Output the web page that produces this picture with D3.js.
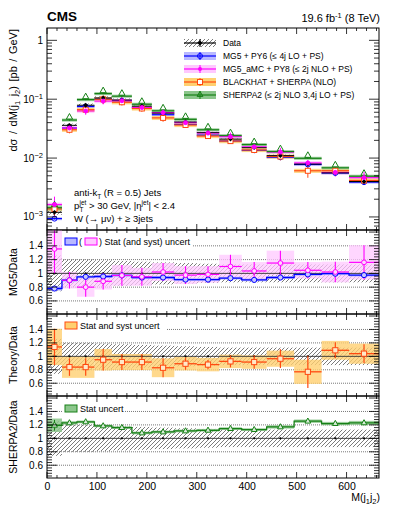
<!DOCTYPE html>
<html>
<head>
<meta charset="utf-8">
<script src="https://cdn.jsdelivr.net/npm/d3@7"></script>
<style>
  body { margin: 0; background: #fff; }
  svg { font-family: "Liberation Sans", Arial, sans-serif; }
</style>
</head>
<body>
<svg id="vis" width="399" height="516"></svg>
<script>
// ---- data ----
const binEdges = [0, 30, 60, 95, 130, 170, 210, 255, 300, 345, 390, 440, 495, 550, 605, 665];
const dataXsec = [0.0012, 0.036, 0.079, 0.105, 0.097, 0.076, 0.058, 0.041, 0.027, 0.021, 0.015, 0.011, 0.0079, 0.0056, 0.0040];
const dataUnc  = [0.26, 0.20, 0.20, 0.19, 0.18, 0.17, 0.16, 0.15, 0.14, 0.13, 0.13, 0.13, 0.13, 0.13, 0.13];
const mg5Ratio = [0.78, 0.90, 0.95, 0.955, 0.97, 0.94, 0.94, 0.91, 0.91, 0.93, 0.905, 0.94, 0.985, 0.995, 0.975];
const mg5Unc   = [0.03, 0.02, 0.02, 0.02, 0.02, 0.02, 0.02, 0.02, 0.02, 0.02, 0.02, 0.02, 0.02, 0.02, 0.02];
const amcRatio = [1.355, 0.90, 0.80, 0.885, 0.97, 0.95, 1.02, 0.975, 0.985, 1.10, 1.035, 1.15, 1.045, 1.02, 1.16];
const amcUnc   = [0.36, 0.12, 0.14, 0.12, 0.15, 0.13, 0.13, 0.13, 0.12, 0.17, 0.13, 0.18, 0.12, 0.15, 0.25];
const bhRatio  = [1.14, 0.84, 0.84, 0.95, 0.915, 0.915, 0.83, 0.89, 0.877, 0.925, 0.915, 0.965, 0.77, 1.09, 1.04];
const bhErr    = [0.27, 0.13, 0.13, 0.16, 0.12, 0.12, 0.14, 0.09, 0.07, 0.09, 0.10, 0.14, 0.24, 0.12, 0.14];
const bhBand   = [0.27, 0.16, 0.16, 0.16, 0.12, 0.12, 0.14, 0.10, 0.10, 0.10, 0.10, 0.12, 0.18, 0.14, 0.15];
const shRatio  = [1.195, 1.23, 1.245, 1.185, 1.16, 1.08, 1.095, 1.11, 1.12, 1.145, 1.13, 1.17, 1.255, 1.22, 1.23];
const shUnc    = [0.10, 0.025, 0.02, 0.02, 0.02, 0.02, 0.02, 0.02, 0.02, 0.02, 0.02, 0.025, 0.025, 0.025, 0.03];

const xTickVals = [0, 100, 200, 300, 400, 500, 600];
const logTickVals = [1e-3, 1e-2, 1e-1, 1];
const ratioTickVals = [0.6, 0.8, 1, 1.2, 1.4];

const legendNames = ["Data", "MG5 + PY6 (\u2264 4j LO + PS)", "MG5_aMC + PY8 (\u2264 2j NLO + PS)",
                     "BLACKHAT + SHERPA (NLO)", "SHERPA2 (\u2264 2j NLO 3,4j LO + PS)"];

// colours
const cBlue = "#0000ff", cBlueBand = "#b8b8ff",
      cMag = "#ff00ff", cMagBand = "#ffc8ff",
      cOr = "#ff4a10", cOrBand = "#ffd070",
      cGr = "#168016", cGrBand = "#8cc68c";

// ---- layout ----
const left = 47, right = 379;
const panels = {
  main:   { top: 28,  bottom: 230 },
  mg5:    { top: 230, bottom: 314 },
  theory: { top: 314, bottom: 396 },
  sherpa: { top: 396, bottom: 478 }
};

const svg = d3.select("#vis");
const defs = svg.append("defs");
defs.append("pattern")
    .attr("id", "hatch")
    .attr("patternUnits", "userSpaceOnUse")
    .attr("width", 4).attr("height", 4)
  .append("path")
    .attr("d", "M-1,1 l2,-2 M0,4 l4,-4 M3,5 l2,-2")
    .attr("stroke", "#222").attr("stroke-width", 0.6);

const x = d3.scaleLinear().domain([0, 665]).range([left, right]);
const yMain = d3.scaleLog().domain([6.0e-4, 1.62]).range([panels.main.bottom, panels.main.top]);
const yR = {};
["mg5", "theory", "sherpa"].forEach(k => {
  yR[k] = d3.scaleLinear().domain([0.41, 1.63]).range([panels[k].bottom, panels[k].top]);
});

const bins = d3.range(dataXsec.length).map(i => ({
  i, lo: binEdges[i], hi: binEdges[i + 1], mid: (binEdges[i] + binEdges[i + 1]) / 2
}));

Object.keys(panels).forEach(k => {
  defs.append("clipPath").attr("id", "clip-" + k)
    .append("rect")
      .attr("x", left).attr("y", panels[k].top)
      .attr("width", right - left).attr("height", panels[k].bottom - panels[k].top);
});

// ---- helpers ----
function xTickMarks(g, p) {
  d3.range(0, 665, 20).forEach(v => {
    const len = v % 100 === 0 ? 6 : 3;
    g.append("line").attr("x1", x(v)).attr("x2", x(v))
      .attr("y1", p.bottom).attr("y2", p.bottom - len).attr("stroke", "#000").attr("stroke-width", 0.8);
    g.append("line").attr("x1", x(v)).attr("x2", x(v))
      .attr("y1", p.top).attr("y2", p.top + len).attr("stroke", "#000").attr("stroke-width", 0.8);
  });
}

function frame(g, p) {
  g.append("rect").attr("x", left).attr("y", p.top)
    .attr("width", right - left).attr("height", p.bottom - p.top)
    .attr("fill", "none").attr("stroke", "#000").attr("stroke-width", 1);
}

function diamondPath(cx, cy, s) { return `M${cx},${cy - s}L${cx + s},${cy}L${cx},${cy + s}L${cx - s},${cy}Z`; }
function triPath(cx, cy, s) { return `M${cx},${cy - s}L${cx + s * 0.9},${cy + s * 0.6}L${cx - s * 0.9},${cy + s * 0.6}Z`; }

// ================= main panel =================
const gMain = svg.append("g");
const mainPlot = gMain.append("g").attr("clip-path", "url(#clip-main)");

const series = [
  { name: "mg5", ratio: mg5Ratio, band: mg5Unc.map(u => Math.max(u, 0.06)), err: mg5Unc, col: cBlue, bandCol: cBlueBand },
  { name: "amc", ratio: amcRatio, band: amcUnc.map(u => Math.min(u, 0.08)), err: amcUnc, col: cMag, bandCol: cMagBand },
  { name: "bh",  ratio: bhRatio,  band: bhBand.map(u => Math.min(u, 0.08)), err: bhErr, col: cOr, bandCol: cOrBand },
  { name: "sh",  ratio: shRatio,  band: shUnc.map(u => Math.max(u, 0.06)), err: shUnc, col: cGr, bandCol: cGrBand }
];

// data hatched boxes
mainPlot.selectAll("rect.dhatch").data(bins).join("rect")
  .attr("x", d => x(d.lo)).attr("width", d => x(d.hi) - x(d.lo))
  .attr("y", d => yMain(dataXsec[d.i] * (1 + dataUnc[d.i] * 0.35)))
  .attr("height", d => yMain(dataXsec[d.i] * (1 - dataUnc[d.i] * 0.35)) - yMain(dataXsec[d.i] * (1 + dataUnc[d.i] * 0.35)))
  .attr("fill", "url(#hatch)");

series.forEach(s => {
  mainPlot.selectAll("rect.b" + s.name).data(bins).join("rect")
    .attr("x", d => x(d.lo)).attr("width", d => x(d.hi) - x(d.lo))
    .attr("y", d => yMain(dataXsec[d.i] * s.ratio[d.i] * (1 + s.band[d.i])))
    .attr("height", d => yMain(dataXsec[d.i] * s.ratio[d.i] * (1 - s.band[d.i])) - yMain(dataXsec[d.i] * s.ratio[d.i] * (1 + s.band[d.i])))
    .attr("fill", s.bandCol).attr("opacity", 0.85);
});
series.forEach(s => {
  mainPlot.selectAll("line.h" + s.name).data(bins).join("line")
    .attr("x1", d => x(d.lo)).attr("x2", d => x(d.hi))
    .attr("y1", d => yMain(dataXsec[d.i] * s.ratio[d.i])).attr("y2", d => yMain(dataXsec[d.i] * s.ratio[d.i]))
    .attr("stroke", s.col).attr("stroke-width", 1.2);
  mainPlot.selectAll("line.v" + s.name).data(bins).join("line")
    .attr("x1", d => x(d.mid)).attr("x2", d => x(d.mid))
    .attr("y1", d => yMain(dataXsec[d.i] * s.ratio[d.i] * (1 + s.err[d.i])))
    .attr("y2", d => yMain(dataXsec[d.i] * s.ratio[d.i] * Math.max(1 - s.err[d.i], 0.05)))
    .attr("stroke", s.col).attr("stroke-width", 1);
});
// data line + points
mainPlot.selectAll("line.dh").data(bins).join("line")
  .attr("x1", d => x(d.lo)).attr("x2", d => x(d.hi))
  .attr("y1", d => yMain(dataXsec[d.i])).attr("y2", d => yMain(dataXsec[d.i]))
  .attr("stroke", "#000").attr("stroke-width", 1);

// markers
mainPlot.selectAll("circle.mg5").data(bins).join("circle")
  .attr("cx", d => x(d.mid)).attr("cy", d => yMain(dataXsec[d.i] * mg5Ratio[d.i])).attr("r", 2.5)
  .attr("fill", "none").attr("stroke", cBlue).attr("stroke-width", 1);
mainPlot.selectAll("rect.bhm").data(bins).join("rect")
  .attr("x", d => x(d.mid) - 2.5).attr("y", d => yMain(dataXsec[d.i] * bhRatio[d.i]) - 2.5)
  .attr("width", 5).attr("height", 5)
  .attr("fill", "#fff").attr("stroke", cOr).attr("stroke-width", 1);
mainPlot.selectAll("path.shm").data(bins).join("path")
  .attr("d", d => triPath(x(d.mid), yMain(dataXsec[d.i] * shRatio[d.i]) - 3, 3.5))
  .attr("fill", "none").attr("stroke", cGr).attr("stroke-width", 1);
mainPlot.selectAll("path.dm").data(bins).join("path")
  .attr("d", d => diamondPath(x(d.mid), yMain(dataXsec[d.i]), 2.4))
  .attr("fill", "#000");
mainPlot.selectAll("circle.amc").data(bins).join("circle")
  .attr("cx", d => x(d.mid)).attr("cy", d => yMain(dataXsec[d.i] * amcRatio[d.i])).attr("r", 2)
  .attr("fill", cMag).attr("stroke", cMag);

// log ticks
const logMinor = [];
[-4, -3, -2, -1, 0].forEach(e => d3.range(1, 10).forEach(m => {
  const v = m * Math.pow(10, e);
  if (v >= yMain.domain()[0] && v <= yMain.domain()[1]) logMinor.push({ v, major: m === 1 });
}));
logMinor.forEach(t => {
  const len = t.major ? 10 : 5;
  gMain.append("line").attr("x1", left).attr("x2", left + len)
    .attr("y1", yMain(t.v)).attr("y2", yMain(t.v)).attr("stroke", "#000").attr("stroke-width", 0.8);
  gMain.append("line").attr("x1", right).attr("x2", right - len)
    .attr("y1", yMain(t.v)).attr("y2", yMain(t.v)).attr("stroke", "#000").attr("stroke-width", 0.8);
});
xTickMarks(gMain, panels.main);
frame(gMain, panels.main);

logTickVals.forEach(v => {
  const e = Math.round(Math.log10(v));
  const t = gMain.append("text").attr("x", 43).attr("y", yMain(v) + 3.5)
    .attr("text-anchor", "end").attr("font-size", 10);
  if (e === 0) { t.text("1"); }
  else {
    t.append("tspan").text("10");
    t.append("tspan").attr("dy", -4).attr("font-size", 7.5).text("\u2212" + (-e));
  }
});

// main y title
const yt = svg.append("text")
  .attr("transform", `translate(17,${panels.main.top + 1}) rotate(-90)`)
  .attr("text-anchor", "end").attr("font-size", 11).attr("word-spacing", 1.5);
yt.append("tspan").text("d\u03c3 / dM(j");
yt.append("tspan").attr("dy", 2.5).attr("font-size", 7.5).text("1");
yt.append("tspan").attr("dy", -2.5).text(" j");
yt.append("tspan").attr("dy", 2.5).attr("font-size", 7.5).text("2");
yt.append("tspan").attr("dy", -2.5).text(")  [pb / GeV]");

// header
svg.append("text").attr("x", 47).attr("y", 21).attr("font-size", 13.5).attr("font-weight", "bold").text("CMS");
const lumi = svg.append("text").attr("x", 380).attr("y", 22).attr("text-anchor", "end").attr("font-size", 11);
lumi.append("tspan").text("19.6 fb");
lumi.append("tspan").attr("dy", -4.5).attr("font-size", 7.5).text("-1");
lumi.append("tspan").attr("dy", 4.5).text(" (8 TeV)");

// legend
const legY = [43, 56, 69, 82, 95];
const legX0 = 184, legX1 = 216, legMid = 200;
const leg = gMain.append("g");
legY.forEach((ly, k) => {
  const fill = k === 0 ? "url(#hatch)" : series[k - 1].bandCol;
  const col = k === 0 ? "#000" : series[k - 1].col;
  leg.append("rect").attr("x", legX0).attr("y", ly - 4).attr("width", legX1 - legX0).attr("height", 8).attr("fill", fill);
  leg.append("line").attr("x1", legX0).attr("x2", legX1).attr("y1", ly).attr("y2", ly).attr("stroke", col).attr("stroke-width", 1.2);
  leg.append("line").attr("x1", legMid).attr("x2", legMid).attr("y1", ly - 4).attr("y2", ly + 4).attr("stroke", col).attr("stroke-width", 1);
  leg.append("text").attr("x", 223).attr("y", ly + 3).attr("font-size", 8.5).text(legendNames[k]);
});
leg.append("path").attr("d", diamondPath(legMid, legY[0], 2.6)).attr("fill", "#000");
leg.append("circle").attr("cx", legMid).attr("cy", legY[1]).attr("r", 2.5).attr("fill", "none").attr("stroke", cBlue);
leg.append("circle").attr("cx", legMid).attr("cy", legY[2]).attr("r", 2).attr("fill", cMag);
leg.append("rect").attr("x", legMid - 2.5).attr("y", legY[3] - 2.5).attr("width", 5).attr("height", 5).attr("fill", "#fff").attr("stroke", cOr);
leg.append("path").attr("d", triPath(legMid, legY[4] - 0.5, 3.2)).attr("fill", "none").attr("stroke", cGr);

// selection text
const sel = svg.append("g").attr("font-size", 9.5);
sel.append("text").attr("x", 74).attr("y", 196).call(t => {
  t.append("tspan").text("anti-k");
  t.append("tspan").attr("dy", 2.5).attr("font-size", 6.5).text("T");
  t.append("tspan").attr("dy", -2.5).text(" (R = 0.5) Jets");
});
sel.append("text").attr("x", 74).attr("y", 209).text("p");
sel.append("text").attr("x", 79.5).attr("y", 211.5).attr("font-size", 6.5).text("T");
sel.append("text").attr("x", 79.5).attr("y", 209).call(t => {
  t.append("tspan").attr("dy", -4).attr("font-size", 6.5).text("jet");
  t.append("tspan").attr("dy", 4).text(" > 30 GeV, |\u03b7");
  t.append("tspan").attr("dy", -4).attr("font-size", 6.5).text("jet");
  t.append("tspan").attr("dy", 4).text("| < 2.4");
});
sel.append("text").attr("x", 74).attr("y", 221.5).text("W (\u2192 \u03bc\u03bd) + \u2265 3jets");

// ================= ratio panels =================
function ratioPanel(key, title) {
  const p = panels[key], y = yR[key];
  const g = svg.append("g");
  const plot = g.append("g").attr("clip-path", `url(#clip-${key})`);

  // gridlines
  [0.6, 0.8, 1.2, 1.4].forEach(v => {
    plot.append("line").attr("x1", left).attr("x2", right).attr("y1", y(v)).attr("y2", y(v))
      .attr("stroke", "#555").attr("stroke-width", 0.8).attr("stroke-dasharray", "1,1");
  });
  // data uncertainty hatch
  plot.selectAll("rect.hatch").data(bins).join("rect")
    .attr("x", d => x(d.lo)).attr("width", d => x(d.hi) - x(d.lo))
    .attr("y", d => y(1 + dataUnc[d.i])).attr("height", d => y(1 - dataUnc[d.i]) - y(1 + dataUnc[d.i]))
    .attr("fill", "url(#hatch)");

  // y ticks
  d3.range(0.44, 1.63, 0.04).forEach(v => {
    const major = Math.abs(v * 5 - Math.round(v * 5)) < 1e-6;
    const len = major ? 10 : 5;
    g.append("line").attr("x1", left).attr("x2", left + len).attr("y1", y(v)).attr("y2", y(v)).attr("stroke", "#000").attr("stroke-width", 0.8);
    g.append("line").attr("x1", right).attr("x2", right - len).attr("y1", y(v)).attr("y2", y(v)).attr("stroke", "#000").attr("stroke-width", 0.8);
  });
  ratioTickVals.forEach(v => {
    g.append("text").attr("x", 43).attr("y", y(v) + 3.5).attr("text-anchor", "end").attr("font-size", 10)
      .text(v === 1 ? "1" : d3.format(".1f")(v));
  });
  xTickMarks(g, p);

  svg.append("text")
    .attr("transform", `translate(17,${(p.top + p.bottom) / 2}) rotate(-90)`)
    .attr("text-anchor", "middle").attr("font-size", 10.5).text(title);
  return { g, plot, y };
}

function dataLine(plot, y) {
  plot.append("line").attr("x1", left).attr("x2", right).attr("y1", y(1)).attr("y2", y(1))
    .attr("stroke", "#333").attr("stroke-width", 0.9);
  plot.selectAll("circle.dd").data(bins).join("circle")
    .attr("cx", d => x(d.mid)).attr("cy", y(1)).attr("r", 1.1).attr("fill", "#000");
}

function stepPath(y, vals) {
  let d = "";
  bins.forEach((b, k) => {
    d += (k === 0 ? "M" : "L") + x(b.lo) + "," + y(vals[b.i]) + "L" + x(b.hi) + "," + y(vals[b.i]);
  });
  return d;
}

// --- MG5 panel
{
  const { g, plot, y } = ratioPanel("mg5", "MG5/Data");
  plot.selectAll("rect.amcb").data(bins).join("rect")
    .attr("x", d => x(d.lo)).attr("width", d => x(d.hi) - x(d.lo))
    .attr("y", d => y(amcRatio[d.i] + amcUnc[d.i])).attr("height", d => y(amcRatio[d.i] - amcUnc[d.i]) - y(amcRatio[d.i] + amcUnc[d.i]))
    .attr("fill", cMagBand).attr("opacity", 0.75);
  plot.selectAll("rect.mgb").data(bins).join("rect")
    .attr("x", d => x(d.lo)).attr("width", d => x(d.hi) - x(d.lo))
    .attr("y", d => y(mg5Ratio[d.i] + mg5Unc[d.i])).attr("height", d => y(mg5Ratio[d.i] - mg5Unc[d.i]) - y(mg5Ratio[d.i] + mg5Unc[d.i]))
    .attr("fill", cBlueBand);
  dataLine(plot, y);
  plot.append("path").attr("d", stepPath(y, mg5Ratio)).attr("fill", "none").attr("stroke", cBlue).attr("stroke-width", 1.3);
  plot.selectAll("line.amch").data(bins).join("line")
    .attr("x1", d => x(d.lo)).attr("x2", d => x(d.hi)).attr("y1", d => y(amcRatio[d.i])).attr("y2", d => y(amcRatio[d.i]))
    .attr("stroke", cMag).attr("stroke-width", 1.2);
  plot.selectAll("line.amcv").data(bins).join("line")
    .attr("x1", d => x(d.mid)).attr("x2", d => x(d.mid))
    .attr("y1", d => y(amcRatio[d.i] + amcUnc[d.i])).attr("y2", d => y(amcRatio[d.i] - amcUnc[d.i]))
    .attr("stroke", cMag).attr("stroke-width", 1.1);
  plot.selectAll("circle.mgm").data(bins).join("circle")
    .attr("cx", d => x(d.mid)).attr("cy", d => y(mg5Ratio[d.i])).attr("r", 2.6)
    .attr("fill", "#c8c8ff").attr("stroke", cBlue).attr("stroke-width", 1);
  plot.selectAll("circle.amcm").data(bins).join("circle")
    .attr("cx", d => x(d.mid)).attr("cy", d => y(amcRatio[d.i])).attr("r", 2.4)
    .attr("fill", "#ffd8ff").attr("stroke", cMag).attr("stroke-width", 1);
  frame(g, panels.mg5);
  // legend
  const lg = g.append("g");
  lg.append("rect").attr("x", 63).attr("y", 236).attr("width", 130).attr("height", 12).attr("fill", "#fff");
  lg.append("rect").attr("x", 65).attr("y", 238).attr("width", 12).attr("height", 7).attr("fill", cBlueBand).attr("stroke", cBlue).attr("stroke-width", 1);
  lg.append("text").attr("x", 79).attr("y", 245).attr("font-size", 9).text("(");
  lg.append("rect").attr("x", 85).attr("y", 238).attr("width", 12).attr("height", 7).attr("fill", cMagBand).attr("stroke", cMag).attr("stroke-width", 1);
  lg.append("text").attr("x", 99).attr("y", 245).attr("font-size", 9).text(") Stat (and syst) uncert");
}

// --- Theory panel
{
  const { g, plot, y } = ratioPanel("theory", "Theory/Data");
  plot.selectAll("rect.bhb").data(bins).join("rect")
    .attr("x", d => x(d.lo)).attr("width", d => x(d.hi) - x(d.lo))
    .attr("y", d => y(bhRatio[d.i] + bhBand[d.i])).attr("height", d => y(bhRatio[d.i] - bhBand[d.i]) - y(bhRatio[d.i] + bhBand[d.i]))
    .attr("fill", cOrBand).attr("opacity", 0.8);
  dataLine(plot, y);
  plot.selectAll("line.bhh").data(bins).join("line")
    .attr("x1", d => x(d.lo)).attr("x2", d => x(d.hi)).attr("y1", d => y(bhRatio[d.i])).attr("y2", d => y(bhRatio[d.i]))
    .attr("stroke", cOr).attr("stroke-width", 1.3);
  plot.selectAll("line.bhv").data(bins).join("line")
    .attr("x1", d => x(d.mid)).attr("x2", d => x(d.mid))
    .attr("y1", d => y(bhRatio[d.i] + bhErr[d.i])).attr("y2", d => y(bhRatio[d.i] - bhErr[d.i]))
    .attr("stroke", cOr).attr("stroke-width", 1.2);
  plot.selectAll("rect.bhm").data(bins).join("rect")
    .attr("x", d => x(d.mid) - 2.6).attr("y", d => y(bhRatio[d.i]) - 2.6).attr("width", 5.2).attr("height", 5.2)
    .attr("fill", "#ffe8c8").attr("stroke", cOr).attr("stroke-width", 1);
  frame(g, panels.theory);
  const lg = g.append("g");
  lg.append("rect").attr("x", 63).attr("y", 320).attr("width", 103).attr("height", 12).attr("fill", "#fff");
  lg.append("rect").attr("x", 65).attr("y", 322).attr("width", 12).attr("height", 7).attr("fill", cOrBand).attr("stroke", cOr).attr("stroke-width", 1);
  lg.append("text").attr("x", 80).attr("y", 329).attr("font-size", 9).text("Stat and syst uncert");
}

// --- SHERPA panel
{
  const { g, plot, y } = ratioPanel("sherpa", "SHERPA2/Data");
  plot.selectAll("rect.shb").data(bins).join("rect")
    .attr("x", d => x(d.lo)).attr("width", d => x(d.hi) - x(d.lo))
    .attr("y", d => y(shRatio[d.i] + shUnc[d.i])).attr("height", d => y(shRatio[d.i] - shUnc[d.i]) - y(shRatio[d.i] + shUnc[d.i]))
    .attr("fill", cGrBand).attr("opacity", 0.85);
  dataLine(plot, y);
  plot.append("path").attr("d", stepPath(y, shRatio)).attr("fill", "none").attr("stroke", cGr).attr("stroke-width", 1.3);
  plot.selectAll("line.shv").data(bins).join("line")
    .attr("x1", d => x(d.mid)).attr("x2", d => x(d.mid))
    .attr("y1", d => y(shRatio[d.i] + shUnc[d.i] * 0.8)).attr("y2", d => y(shRatio[d.i] - shUnc[d.i] * 0.8))
    .attr("stroke", cGr).attr("stroke-width", 1);
  plot.selectAll("path.shm").data(bins).join("path")
    .attr("d", d => triPath(x(d.mid), y(shRatio[d.i]), 3.2))
    .attr("fill", "#d8ecd8").attr("stroke", cGr).attr("stroke-width", 1);
  frame(g, panels.sherpa);
  const lg = g.append("g");
  lg.append("rect").attr("x", 63).attr("y", 403).attr("width", 62).attr("height", 12).attr("fill", "#fff");
  lg.append("rect").attr("x", 65).attr("y", 405).attr("width", 12).attr("height", 7).attr("fill", cGrBand).attr("stroke", cGr).attr("stroke-width", 1);
  lg.append("text").attr("x", 80).attr("y", 412).attr("font-size", 9).text("Stat uncert");

  // x tick labels via axis
  const ax = svg.append("g").attr("transform", `translate(0,${panels.sherpa.bottom})`)
    .call(d3.axisBottom(x).tickValues(xTickVals).tickSize(0).tickPadding(5).tickFormat(d3.format("d")));
  ax.select(".domain").remove();
  ax.selectAll("text").attr("font-size", 10.5).attr("font-family", "Liberation Sans, Arial, sans-serif").attr("fill", "#000");
}

// x title
const xt = svg.append("text").attr("x", 380).attr("y", 501).attr("text-anchor", "end").attr("font-size", 10.5);
xt.append("tspan").text("M(j");
xt.append("tspan").attr("dy", 3).attr("font-size", 7.5).text("1");
xt.append("tspan").attr("dy", -3).text("j");
xt.append("tspan").attr("dy", 3).attr("font-size", 7.5).text("2");
xt.append("tspan").attr("dy", -3).text(")");
</script>
</body>
</html>
